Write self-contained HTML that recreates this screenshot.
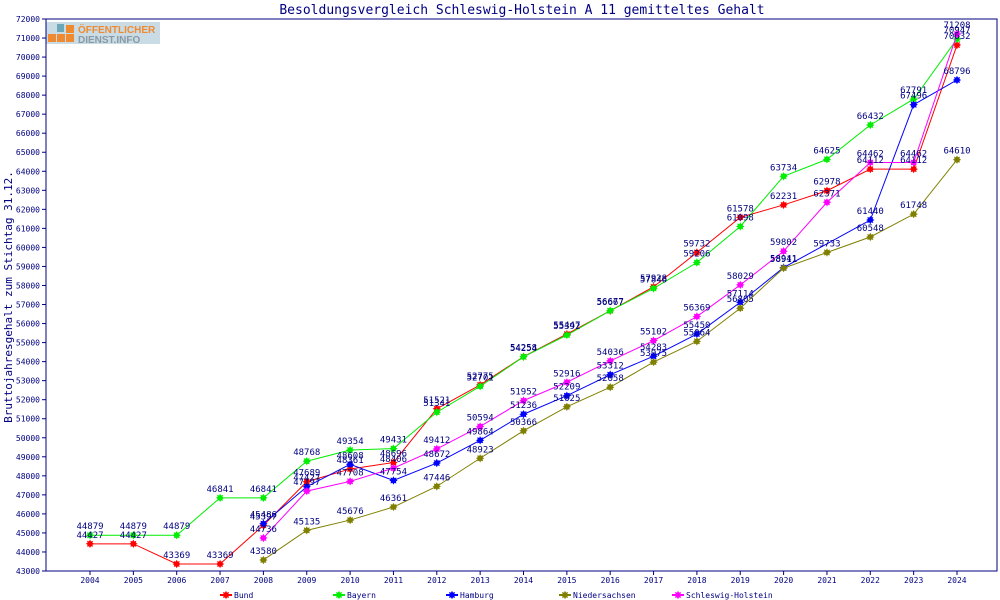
<!DOCTYPE html>
<html><head><meta charset="utf-8"><style>
body{margin:0;background:#fff}
svg{display:block;font-family:"DejaVu Sans Mono","Liberation Mono",monospace}
</style></head><body>
<svg id="c" width="1000" height="600" viewBox="0 0 1000 600" xmlns="http://www.w3.org/2000/svg">
<text x="522" y="14" text-anchor="middle" font-size="13" fill="#000080">Besoldungsvergleich Schleswig-Holstein A 11 gemitteltes Gehalt</text>
<g>
<rect x="46" y="22" width="114" height="22" fill="#c9dbe4"/>
<rect x="48" y="34" width="8" height="8" fill="#f08a30"/><rect x="57" y="34" width="8" height="8" fill="#f08a30"/><rect x="66" y="34" width="8" height="8" fill="#f08a30"/><rect x="66" y="25" width="8" height="8" fill="#f08a30"/><rect x="57" y="24" width="7" height="8" fill="#6aa8b8"/>
<text x="78" y="33" font-family="Liberation Sans,sans-serif" font-weight="bold" font-size="10" fill="#f08a30">ÖFFENTLICHER</text>
<text x="78" y="43" font-family="Liberation Sans,sans-serif" font-weight="bold" font-size="10" fill="#8a9aa4">DIENST.INFO</text>
</g>
<g id="axes"></g><g id="series"></g><g id="legend"></g>
<text transform="translate(12,297) rotate(-90)" text-anchor="middle" font-size="11" fill="#000080">Bruttojahresgehalt zum Stichtag 31.12.</text>
</svg>
<script>
const years=[2004,2005,2006,2007,2008,2009,2010,2011,2012,2013,2014,2015,2016,2017,2018,2019,2020,2021,2022,2023,2024];
const yTicks=[43000,44000,45000,46000,47000,48000,49000,50000,51000,52000,53000,54000,55000,56000,57000,58000,59000,60000,61000,62000,63000,64000,65000,66000,67000,68000,69000,70000,71000,72000];
const seriesNames=["Bund","Bayern","Hamburg","Niedersachsen","Schleswig-Holstein"];
const seriesColors=["#ff0000","#00ee00","#0000ff","#808000","#ff00ff"];
const bund=[44427,44427,43369,43369,45397,47689,48361,48696,51521,52775,54258,55447,56667,57928,59732,61578,62231,62978,64112,64112,70632];
const bayern=[44879,44879,44879,46841,46841,48768,49354,49431,51341,52701,54254,55392,56677,57846,59206,61098,63734,64625,66432,67791,70947];
const hamburg=[null,null,null,null,45486,47427,48608,47754,48672,49864,51236,52209,53312,54283,55450,57114,58941,null,61440,67496,68796];
const niedersachsen=[null,null,null,null,43580,45135,45676,46361,47446,48923,50366,51625,52658,53975,55064,56805,58911,59733,60548,61748,64610];
const sh=[null,null,null,null,44736,47197,47708,48406,49412,50594,51952,52916,54036,55102,56369,58029,59802,62371,64462,64462,71208];
const allSeries=[bund,bayern,hamburg,niedersachsen,sh];
const NS="http://www.w3.org/2000/svg";
const L=46,R=997,T=19,B=571,X0=90,X1=957;
const x=i=>X0+(X1-X0)*i/(years.length-1);
const y=v=>B-(v-43000)/(72000-43000)*(B-T);
function mk(tag,at,parent){const e=document.createElementNS(NS,tag);for(const k in at)e.setAttribute(k,at[k]);parent.appendChild(e);return e;}
const ax=document.getElementById('axes');
let f=mk('rect',{x:L,y:T,width:R-L,height:B-T,fill:'none',stroke:'#000080','stroke-width':1},ax);


yTicks.forEach(v=>{
 const t=mk('line',{x1:L-4,x2:L,y1:y(v),y2:y(v),stroke:'#000080'},ax);
 
 
 const lb=mk('text',{x:L-6,y:y(v)+3,'text-anchor':'end','font-size':'8',fill:'#000080'},ax);lb.textContent=v;
 
 
});
years.forEach((yr,i)=>{
 const t=mk('line',{x1:x(i),x2:x(i),y1:B,y2:B+4,stroke:'#000080'},ax);
 
 
 const lb=mk('text',{x:x(i),y:B+12,'text-anchor':'middle','font-size':'8',fill:'#000080'},ax);lb.textContent=yr;
 
 
});
function star(cx,cy,c,g){
 const p=[];for(let k=0;k<16;k++){const r=k%2?2.6:4.2;const a=Math.PI*k/8;p.push((cx+r*Math.cos(a)).toFixed(1)+','+(cy+r*Math.sin(a)).toFixed(1));}
 return mk('polygon',{points:p.join(' '),fill:c},g);
}
const sg=document.getElementById('series');
allSeries.forEach((s,si)=>{
 const g=mk('g',{},sg);
 
 
 const pts=[];s.forEach((v,i)=>{if(v!=null)pts.push(x(i)+','+y(v));});
 const pl=mk('polyline',{points:pts.join(' '),fill:'none',stroke:seriesColors[si],'stroke-width':1},g);
 
 
 s.forEach((v,i)=>{if(v==null)return;
  const m=star(x(i),y(v),seriesColors[si],g);
  
  
 });
});
allSeries.forEach((s,si)=>{s.forEach((v,i)=>{if(v==null)return;
 const lb=mk('text',{x:x(i),y:y(v)-6,'text-anchor':'middle','font-size':'9',fill:'#000080'},sg);lb.textContent=v;
 
 
});});
const lg=document.getElementById('legend');
seriesNames.forEach((n,i)=>{
 const g=mk('g',{},lg);
 
 
 const lx=220+i*113;
 mk('line',{x1:lx,x2:lx+12,y1:595,y2:595,stroke:seriesColors[i],'stroke-width':2},g);
 star(lx+6,595,seriesColors[i],g);
 const t=mk('text',{x:lx+14,y:598,'font-size':'8',fill:'#000080'},g);t.textContent=n;
});
</script>
</body></html>
